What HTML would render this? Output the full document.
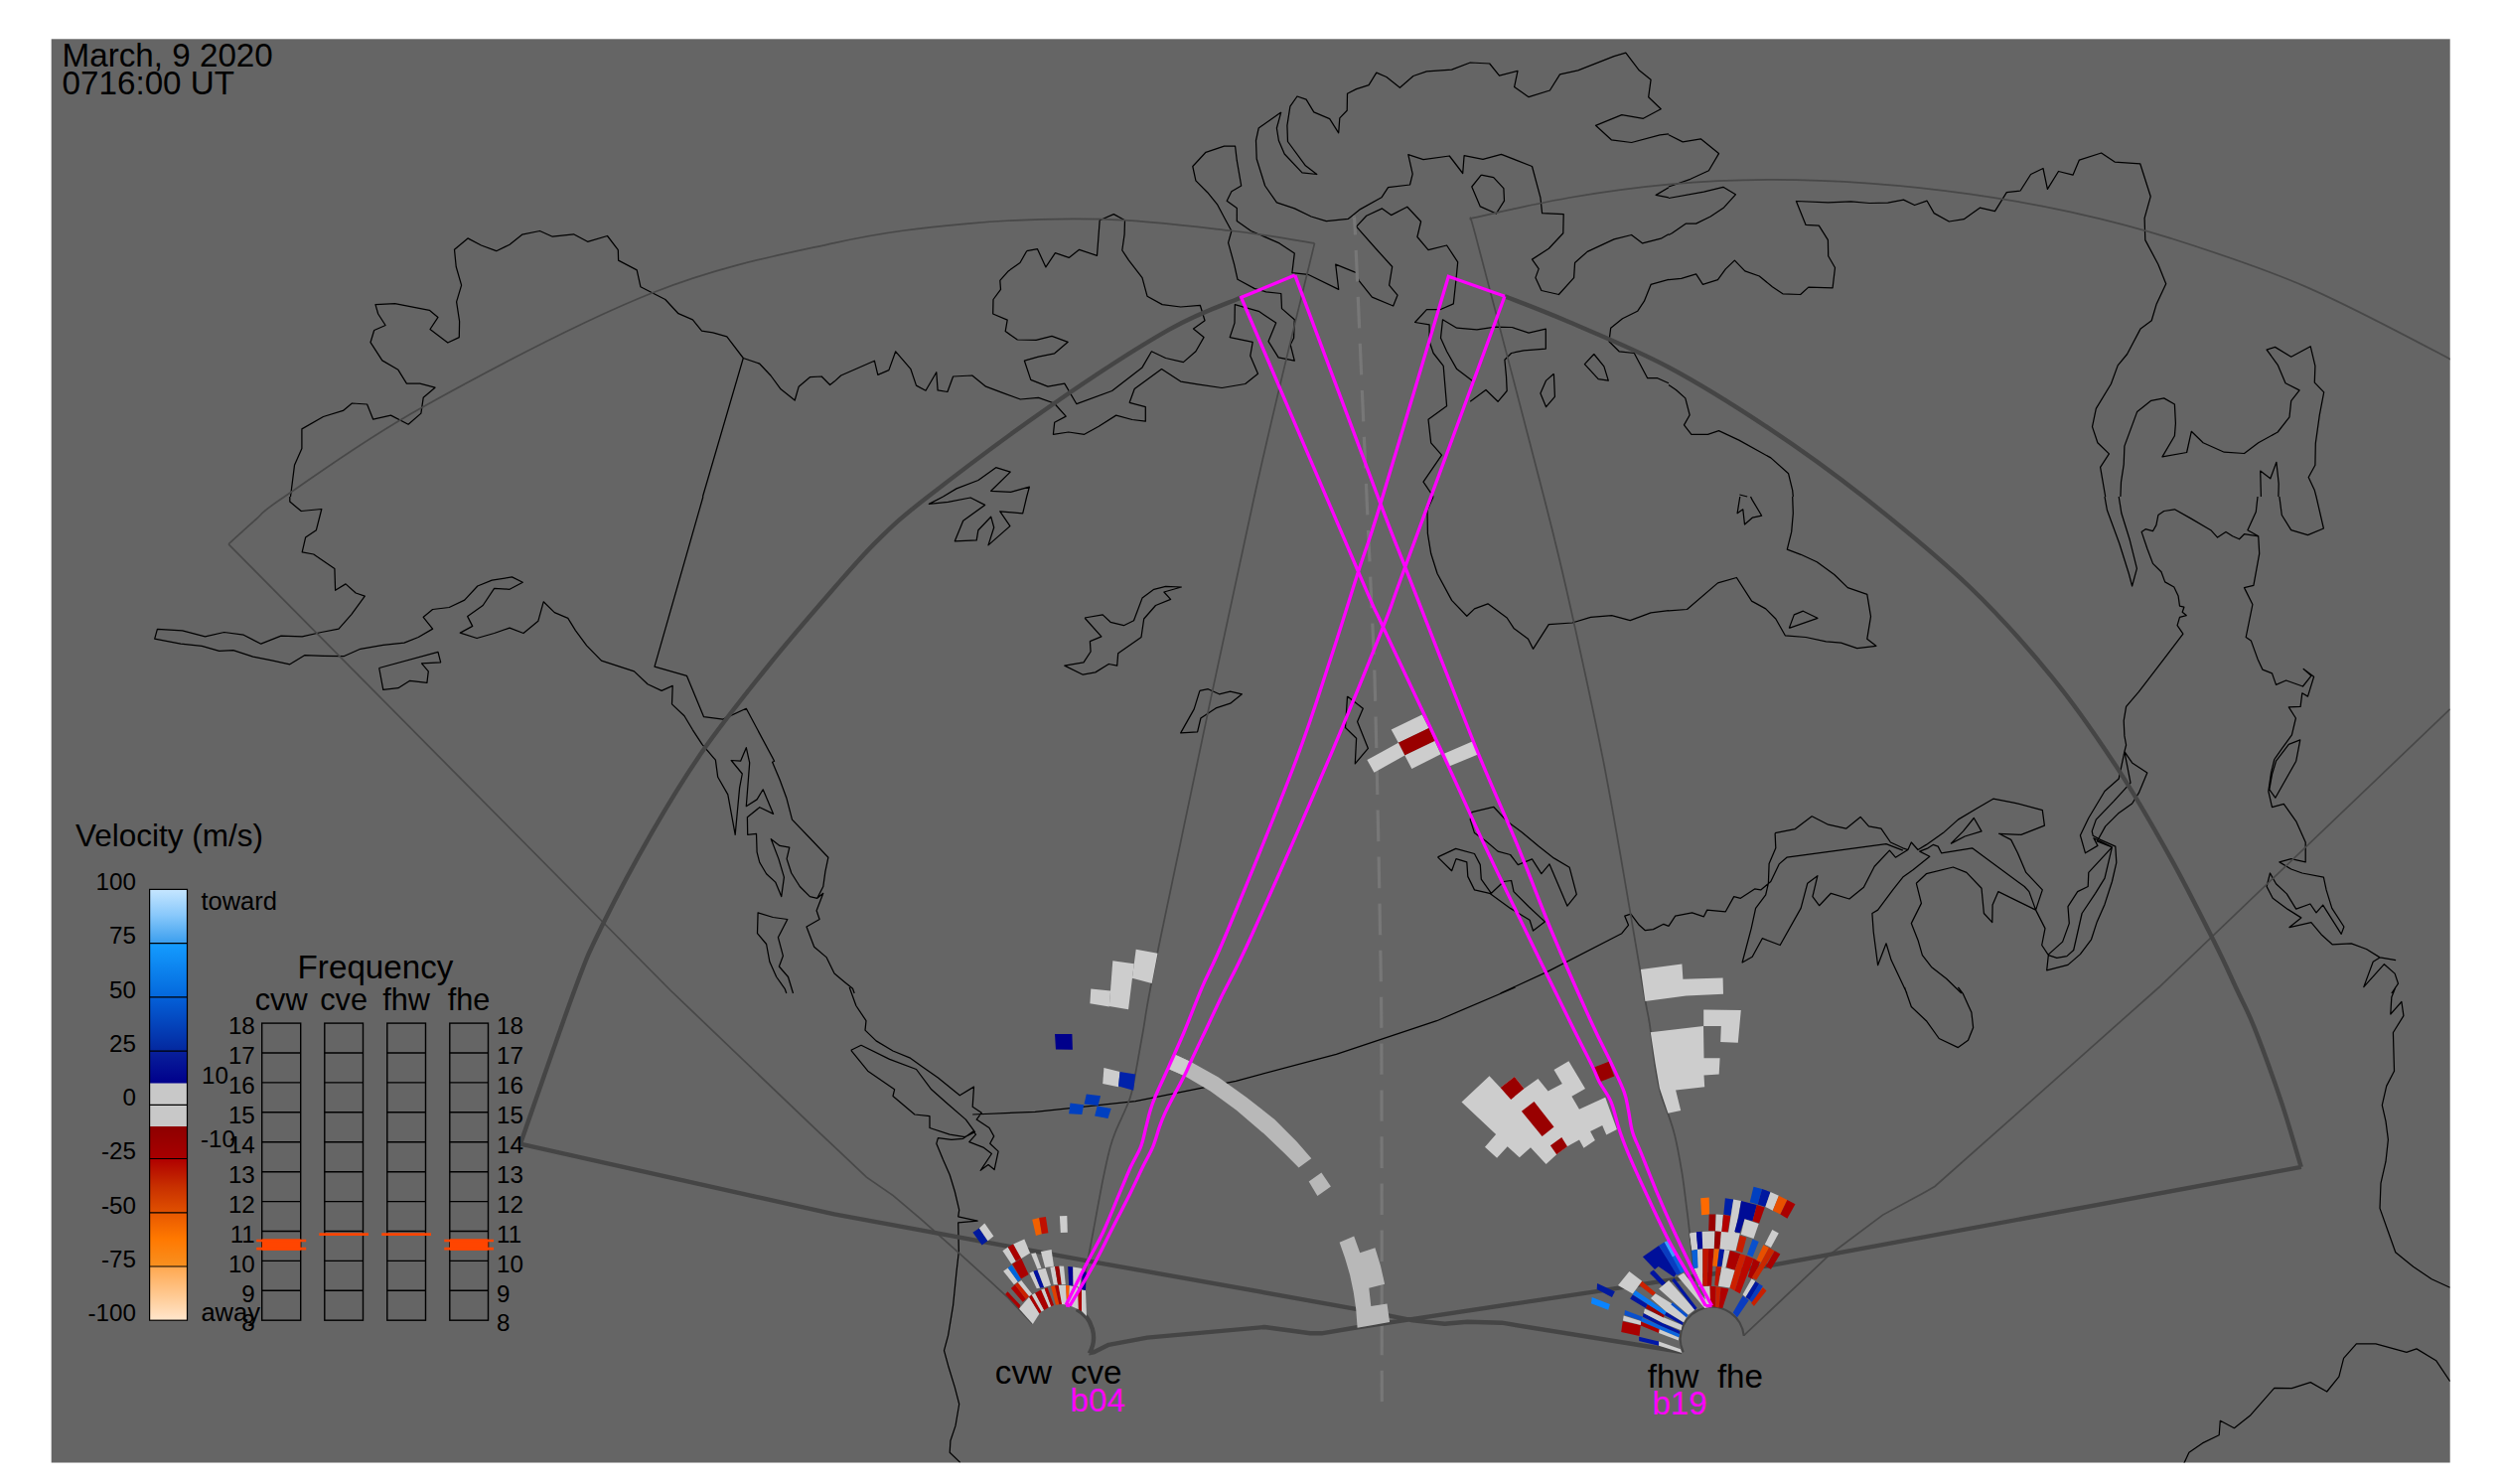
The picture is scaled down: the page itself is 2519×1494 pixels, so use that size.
<!DOCTYPE html>
<html><head><meta charset="utf-8"><title>Radar map</title>
<style>html,body{margin:0;padding:0;background:#fff}svg{display:block}text{font-family:"Liberation Sans",sans-serif}</style>
</head><body>
<svg width="2519" height="1494" viewBox="0 0 2519 1494">
<rect x="51.7" y="39.3" width="2415" height="1433.2" fill="#656565"/>
<clipPath id="cp"><rect x="51.7" y="39.3" width="2415" height="1433.2"/></clipPath>
<g clip-path="url(#cp)">
<path d="M292.5 500.0 L296.5 468.3 L303.9 451.5 L303.9 431.9 L325.5 419.5 L345.4 413.4 L354.4 406.0 L369.6 407.0 L375.7 422.2 L393.5 418.1 L411.1 427.2 L423.9 416.1 L426.2 400.3 L438.0 390.2 L422.8 386.1 L409.4 386.1 L400.9 372.3 L384.8 362.9 L373.0 344.7 L376.7 332.5 L388.1 327.5 L380.7 316.0 L378.0 306.6 L397.6 305.6 L432.3 312.3 L441.0 319.4 L433.0 331.5 L450.8 345.0 L462.3 339.6 L462.6 323.5 L459.6 303.9 L464.6 287.1 L459.2 268.5 L457.5 251.3 L471.0 239.9 L484.5 247.0 L499.7 252.7 L513.1 246.3 L525.6 236.2 L543.5 232.5 L556.3 238.2 L577.5 235.8 L591.6 243.3 L611.5 237.5 L622.3 251.7 L622.6 262.1 L641.2 271.9 L644.9 288.7 L669.8 301.5 L683.0 315.7 L697.4 321.8 L706.5 333.2 L717.7 334.9 L731.8 338.9 L748.3 360.5 L764.8 366.2 L775.9 378.0 L786.1 391.8 L800.2 403.0 L804.2 389.2 L815.4 379.7 L827.2 379.0 L835.6 387.5 L840.0 384.1 M748.3 360.5 L707.5 500.0 M1033.7 252.7 L1044.5 250.7 L1052.9 268.9 L1062.4 254.7 L1076.2 259.4 L1086.6 251.3 L1104.5 257.4 L1107.2 221.7 L1121.3 215.6 L1132.5 221.7 L1132.1 235.8 L1129.8 252.0 L1136.5 262.1 L1150.0 279.6 L1155.0 298.2 L1170.2 306.6 L1188.7 309.0 L1208.3 307.3 L1213.0 322.8 L1201.5 330.9 L1212.0 339.6 L1203.9 353.8 L1191.4 364.6 L1173.6 360.5 L1159.4 353.8 L1150.0 369.9 L1119.6 393.5 L1083.9 406.7 L1071.8 386.1 L1055.0 389.2 L1037.8 382.4 L1031.4 363.2 L1045.5 359.2 L1061.7 355.8 L1075.2 344.3 L1059.0 338.3 L1043.2 342.3 L1024.3 342.0 L1012.2 333.6 L1014.2 322.1 L999.7 316.0 L1000.0 301.5 L1007.5 291.4 L1006.8 282.3 L1015.2 272.9 L1027.0 264.5 L1033.7 252.7 M840.0 384.1 L846.7 378.0 L880.4 363.2 L883.8 377.4 L894.9 372.6 L901.7 353.8 L916.8 371.3 L922.5 388.1 L932.0 393.2 L942.8 374.7 L944.1 392.9 L953.9 394.5 L959.6 379.0 L978.8 378.0 L992.6 389.2 L1008.5 395.2 L1027.3 402.0 L1045.5 400.3 L1061.4 406.0 L1073.2 419.1 L1061.7 425.2 L1060.4 437.3 L1075.8 435.0 L1091.7 437.3 L1106.2 429.2 L1123.7 418.1 L1139.9 422.5 L1153.3 424.2 L1153.3 409.7 L1137.2 405.3 L1142.2 391.5 L1169.5 371.6 L1188.7 384.1 L1205.6 386.8 L1230.2 390.5 L1253.7 386.5 L1266.5 376.3 L1258.8 358.2 L1261.2 344.3 L1238.2 339.6 L1243.0 325.1 L1243.3 306.6 L1267.2 313.3 L1284.7 325.1 L1277.0 343.7 L1287.1 359.8 L1303.3 363.2 L1299.2 347.0 L1302.6 340.3 L1303.3 321.8 L1290.5 310.6 L1289.8 295.5 L1274.6 293.8 L1262.8 290.4 L1246.0 281.3 L1242.6 266.2 L1236.6 244.3 L1239.9 232.5 L1233.5 220.7 L1225.8 206.2 L1215.7 193.7 L1203.9 181.9 L1200.8 167.5 L1214.0 153.3 L1232.5 147.2 L1243.6 147.2 L1245.3 161.7 L1249.7 187.0 L1239.9 192.7 L1235.2 202.2 L1245.3 209.6 L1245.3 222.4 L1259.5 232.5 L1288.1 244.9 L1303.3 255.1 L1300.9 274.6 L1316.8 276.3 L1347.7 291.4 L1344.7 266.2 L1365.6 274.6 L1368.0 282.3 L1381.4 299.2 L1402.7 308.0 L1407.0 297.2 L1398.6 287.1 L1401.7 268.5 L1385.8 251.0 L1365.6 228.1 L1375.7 217.3 L1391.5 209.9 L1400.6 216.6 L1416.8 208.2 L1430.6 223.0 L1426.9 238.5 L1438.0 251.7 L1456.6 247.0 L1467.7 263.8 L1466.0 281.3 L1463.3 305.9 L1449.8 311.7 L1436.4 311.7 L1424.6 324.5 L1439.1 326.8 L1439.1 343.7 L1443.1 355.5 L1453.2 368.3 L1456.6 408.7 L1438.0 422.2 L1440.7 445.8 L1451.5 458.2 L1433.0 485.2 L1443.1 500.0 M1289.8 112.9 L1267.2 129.0 L1264.5 141.5 L1265.2 160.0 L1273.6 187.0 L1285.4 203.8 L1303.3 209.9 L1320.1 218.0 L1335.3 222.7 L1357.2 220.4 L1369.6 210.6 L1390.9 198.8 L1397.6 188.7 L1419.5 186.0 L1422.2 175.2 L1417.8 155.7 L1433.0 160.7 L1459.3 157.0 L1472.7 174.5 L1474.1 156.7 L1493.0 160.4 L1511.5 155.3 L1542.5 167.5 L1550.9 198.8 L1552.6 214.6 L1574.2 215.6 L1573.8 234.8 L1559.3 250.3 L1542.5 261.1 L1549.2 270.6 L1545.9 279.6 L1551.9 292.5 L1569.4 296.5 L1584.6 279.6 L1585.6 264.5 L1598.1 253.4 L1625.0 240.9 L1642.6 236.5 L1653.7 244.9 L1672.2 240.2 L1680.0 235.8 M1289.8 112.9 L1285.4 129.0 L1287.4 141.5 L1293.2 155.0 L1311.0 173.9 L1325.8 175.5 L1314.4 166.8 L1296.5 142.5 L1295.9 126.3 L1298.9 107.1 L1306.0 97.0 L1315.1 100.1 L1322.8 112.9 L1338.7 119.6 L1347.7 133.8 L1348.8 118.9 L1356.2 111.2 L1356.5 94.3 L1365.6 89.6 L1378.1 85.6 L1385.8 73.1 L1395.9 77.5 L1409.4 88.3 L1422.9 76.5 L1436.4 71.8 L1461.6 70.1 L1480.2 63.0 L1499.7 64.0 L1509.5 76.1 L1528.0 71.4 L1524.6 87.6 L1539.1 97.7 L1560.4 91.0 L1570.5 74.8 L1588.7 70.8 L1625.0 56.6 L1636.8 53.2 L1650.3 70.8 L1662.1 80.2 L1659.7 97.7 L1672.2 109.8 L1654.4 119.3 L1632.8 115.6 L1606.5 126.3 L1622.3 140.8 L1642.6 143.5 L1671.2 135.8 L1680.0 134.8 M1491.3 176.2 L1503.7 178.6 L1513.9 189.7 L1514.5 202.2 L1506.4 215.0 L1490.3 207.9 L1481.8 188.0 L1491.3 176.2 M1680.0 281.3 L1662.1 286.4 L1655.4 303.2 L1648.6 313.3 L1633.5 320.8 L1621.7 330.2 L1620.0 343.7 L1630.1 353.8 L1645.3 355.5 L1658.7 380.7 L1668.8 380.7 L1680.0 385.8 M1680.0 188.7 L1667.2 196.4 L1680.0 198.8 M1480.2 404.3 L1496.0 392.5 L1508.1 404.3 L1517.2 393.5 L1516.5 379.0 L1514.9 362.2 L1521.6 355.5 L1534.1 352.8 L1556.3 351.1 L1556.3 331.2 L1539.1 335.2 L1522.3 329.5 L1505.4 329.2 L1486.9 331.9 L1466.7 330.2 L1452.5 321.8 L1450.5 340.3 L1456.6 353.8 L1466.7 371.6 L1484.5 385.1 M1564.4 376.3 L1565.4 399.3 L1556.6 409.7 L1550.9 395.9 L1556.6 383.1 L1564.4 376.3 M1604.8 356.5 L1614.9 368.9 L1619.3 383.1 L1609.2 381.7 L1595.4 366.6 L1604.8 356.5 M949.5 500.0 L963.0 491.9 L984.9 483.5 L1002.7 470.7 L1017.2 475.1 L997.7 494.3 L1017.6 495.3 L1036.4 490.2 L1033.7 500.0 M1680.0 135.8 L1694.2 142.9 L1712.3 139.8 L1730.5 154.6 L1720.4 171.8 L1701.9 180.3 L1680.0 188.0 M1680.0 199.5 L1715.4 193.1 L1734.9 188.3 L1747.4 195.8 L1735.6 208.9 L1722.1 218.0 L1707.6 225.1 L1697.5 225.1 L1683.4 234.8 L1680.0 236.5 M1680.0 281.7 L1692.8 280.3 L1707.6 275.9 L1714.4 286.4 L1729.5 281.7 L1737.3 270.9 L1746.4 262.1 L1756.8 272.9 L1771.3 278.0 L1784.4 288.7 L1794.9 295.8 L1812.7 296.5 L1820.8 289.1 L1845.1 289.8 L1847.5 269.5 L1840.7 257.7 L1840.4 241.6 L1831.3 227.1 L1818.1 226.4 L1808.4 202.5 L1840.7 203.8 L1863.6 202.8 L1882.2 204.5 L1900.7 204.2 L1916.5 201.1 L1927.6 206.5 L1940.1 202.2 L1947.2 214.6 L1962.3 223.0 L1977.2 220.7 L1993.3 209.2 L2008.5 212.6 L2020.3 193.7 L2034.1 192.0 L2044.6 175.5 L2057.0 169.5 L2061.4 190.4 L2072.5 172.5 L2087.0 176.2 L2093.4 161.1 L2115.6 154.0 L2129.1 163.1 L2154.7 164.8 L2165.2 197.8 L2159.1 219.7 L2159.8 241.6 L2172.9 266.2 L2180.7 285.7 L2171.2 305.9 L2166.2 322.8 L2155.1 330.9 L2141.6 356.5 L2132.2 367.9 L2125.4 386.5 L2110.3 411.4 L2106.5 429.6 L2111.9 445.8 L2123.4 456.9 L2114.6 470.4 L2119.7 500.0 M2134.9 500.0 L2135.5 485.2 L2138.2 467.7 L2138.9 449.1 L2151.7 414.4 L2165.8 403.3 L2178.7 400.9 L2189.4 407.0 L2190.4 426.2 L2189.4 438.7 L2177.0 459.9 L2201.6 455.5 L2206.3 434.3 L2218.1 445.8 L2239.3 455.2 L2259.5 456.5 L2273.7 445.8 L2293.2 435.0 L2305.0 419.8 L2306.7 403.6 L2315.1 392.9 L2301.0 385.8 L2293.2 367.3 L2282.1 352.1 L2290.5 349.4 L2306.7 359.2 L2326.2 348.7 L2330.9 368.3 L2330.3 385.1 L2339.7 394.9 L2335.3 417.8 L2331.3 446.4 L2330.9 468.3 L2324.2 480.5 L2330.3 493.6 L2332.0 500.0 M2276.4 500.0 L2275.7 474.1 L2285.8 481.8 L2291.9 465.3 L2294.2 486.9 L2293.9 500.0 M1680.0 387.5 L1687.4 392.5 L1696.8 400.9 L1701.2 417.8 L1695.5 427.9 L1702.9 437.3 L1719.4 437.3 L1730.5 433.6 L1750.8 443.1 L1782.8 460.9 L1800.6 476.8 L1804.7 493.6 L1805.3 500.0 M1751.4 498.0 L1759.2 500.0 M291.8 500.0 L291.8 505.1 L303.2 514.5 L323.8 512.5 L318.4 533.7 L307.6 541.1 L304.2 555.9 L315.7 558.0 L336.9 572.4 L337.6 594.3 L348.0 587.9 L358.2 597.0 L367.3 600.1 L353.8 618.6 L341.0 633.1 L323.5 636.5 L304.2 640.8 L283.0 640.2 L262.8 648.2 L245.3 639.2 L225.7 636.5 L206.5 640.8 L183.6 634.8 L158.4 633.4 L155.7 643.2 L181.9 648.2 L203.2 650.3 L220.7 655.3 L234.8 654.6 L254.7 661.1 L273.6 664.8 L291.8 668.8 L306.6 659.7 L326.1 660.4 L346.0 660.7 L362.9 653.3 L385.8 649.3 L407.0 647.2 L421.2 641.5 L435.6 633.1 L426.2 621.3 L435.6 613.5 L452.2 611.5 L467.7 604.1 L480.8 590.0 L495.3 584.2 L515.5 580.9 L526.3 586.3 L513.1 593.3 L497.6 592.3 L486.2 609.5 L470.7 620.6 L475.7 630.4 L463.3 637.1 L480.1 642.5 L497.6 637.5 L513.1 632.1 L527.0 637.5 L541.8 625.3 L547.2 605.8 L558.3 616.6 L571.8 622.3 L579.5 634.8 L590.6 649.9 L605.5 665.1 L638.5 675.9 L652.0 688.7 L666.1 695.4 L677.2 690.4 L676.5 708.9 L689.0 720.7 L697.4 734.8 L706.9 749.3 L720.4 765.2 L722.7 782.3 L732.8 799.9 L740.2 840.3 L744.6 793.1 L747.3 779.0 L736.2 765.5 L745.6 766.2 L751.3 752.7 L754.7 767.9 L751.3 811.7 L762.1 804.9 L768.2 794.8 L778.6 819.4 L764.8 812.7 L752.4 822.8 L752.7 840.3 L761.5 839.3 L762.1 857.8 L764.8 868.3 L771.6 879.7 L780.7 888.1 L786.7 902.6 L789.4 883.1 L784.0 864.9 L776.3 844.7 L785.0 851.4 L794.8 853.1 L792.1 864.6 L796.8 879.0 L805.3 892.5 L815.4 902.6 L822.8 904.3 L828.8 892.5 L830.9 877.4 L833.9 863.2 L815.4 843.7 L797.5 825.1 L791.8 803.2 L785.0 784.7 L777.6 767.2 L779.6 766.2 L751.3 713.3 L727.8 724.1 L708.6 721.7 L691.4 680.3 L659.0 671.2 L707.9 500.0 M822.8 904.3 L828.8 899.3 L822.1 916.8 L825.1 925.5 L812.0 933.0 L819.7 953.2 L832.2 963.9 L840.0 980.1 M798.5 1000.0 L793.5 983.5 L784.4 973.0 L788.4 962.3 L783.4 943.7 L792.8 925.5 L778.3 923.5 L763.1 918.8 L762.5 939.7 L771.6 950.5 L774.9 968.3 L781.7 983.5 L790.1 995.3 L791.8 1000.0 M381.7 672.5 L441.0 656.3 L443.7 666.8 L424.5 667.8 L431.3 675.9 L429.9 687.3 L412.7 685.3 L400.9 692.7 L385.8 694.4 L381.7 672.5 M949.5 500.0 L935.4 507.4 L954.6 505.4 L977.1 501.0 L991.6 508.4 L969.7 524.3 L961.3 544.8 L983.2 543.8 L984.9 533.7 L997.7 520.2 L1000.7 531.0 L995.0 548.9 L1016.9 529.6 L1006.8 514.8 L1029.7 516.8 L1033.7 500.0 M1092.0 622.0 L1110.2 618.9 L1118.0 626.3 L1131.4 629.7 L1141.5 624.7 L1150.0 602.1 L1161.8 593.3 L1173.6 590.3 L1189.4 591.0 L1171.9 596.0 L1178.6 603.4 L1163.5 609.5 L1151.7 623.0 L1149.0 641.5 L1125.7 657.7 L1124.7 670.1 L1116.3 668.5 L1102.8 676.9 L1090.3 679.2 L1071.8 670.1 L1091.0 666.8 L1098.1 656.0 L1097.4 645.6 L1108.9 640.8 L1092.0 622.0 M1207.9 695.4 L1216.3 693.7 L1227.5 698.8 L1238.6 696.1 L1250.4 698.8 L1238.6 708.2 L1224.1 712.9 L1208.9 723.0 L1205.6 736.9 L1188.7 737.9 L1202.2 713.9 L1207.9 695.4 M1356.5 701.1 L1372.3 713.3 L1366.6 726.4 L1377.4 753.4 L1364.3 768.9 L1365.6 743.3 L1354.5 732.5 L1356.5 701.1 M1443.1 500.0 L1437.0 513.5 L1437.4 537.1 L1440.7 557.3 L1447.1 577.5 L1461.6 604.4 L1476.8 620.3 L1484.5 612.9 L1498.0 607.8 L1517.2 622.0 L1524.0 632.4 L1538.5 643.2 L1543.5 653.3 L1559.3 628.7 L1582.9 627.0 L1601.5 621.3 L1622.7 619.6 L1641.2 624.7 L1662.1 616.9 L1680.0 614.6 M1481.8 817.7 L1503.7 812.3 L1517.2 826.8 L1532.4 837.9 L1549.2 852.1 L1564.4 863.9 L1580.2 873.3 L1587.3 900.3 L1577.9 912.1 L1560.0 869.9 L1551.9 879.7 L1542.5 864.9 L1528.3 870.6 L1520.6 860.5 L1508.1 857.1 L1496.3 847.0 L1484.5 838.6 L1480.2 825.1 L1481.8 817.7 M1447.5 862.9 L1465.7 854.4 L1484.5 859.5 L1490.3 870.6 L1491.3 885.1 L1501.4 899.3 L1513.9 887.5 L1521.6 886.5 L1524.0 897.6 L1539.1 912.7 L1555.3 927.9 L1543.5 937.0 L1540.1 926.2 L1520.6 914.4 L1499.7 899.3 L1484.5 895.9 L1477.8 882.4 L1476.8 867.9 L1466.0 864.6 L1461.6 876.7 L1447.5 862.9 M1510.5 1000.0 L1557.7 978.4 L1632.8 939.7 L1639.5 931.3 L1635.8 922.2 L1641.9 920.1 L1650.3 931.3 L1656.4 936.7 L1664.5 935.6 L1674.9 930.3 L1680.0 932.3 M840.0 980.1 L850.1 988.5 L858.5 995.3 L860.2 1000.0 M1680.0 614.9 L1698.5 613.5 L1729.5 586.9 L1748.4 581.5 L1763.6 605.1 L1777.7 612.9 L1787.8 623.0 L1797.3 639.8 L1818.1 641.5 L1838.4 645.9 L1853.5 647.2 L1869.7 652.6 L1888.9 650.3 L1879.8 643.2 L1883.5 620.6 L1879.8 598.4 L1860.3 591.6 L1846.8 578.5 L1829.3 565.7 L1813.1 558.3 L1799.3 553.2 L1803.7 535.4 L1805.3 516.8 L1804.7 500.0 M1801.3 632.4 L1806.3 618.9 L1815.4 615.2 L1829.9 622.3 L1801.3 632.4 M1751.8 500.0 L1749.1 516.8 L1754.8 512.8 L1756.5 528.0 L1764.2 521.2 L1773.7 519.2 L1764.2 503.4 L1762.5 500.0 M2119.0 500.0 L2121.4 513.5 L2133.8 547.2 L2143.3 577.5 L2146.6 590.0 L2151.4 572.4 L2144.3 543.8 L2135.9 516.8 L2133.2 500.0 M2273.0 500.0 L2271.3 515.2 L2262.9 533.7 L2273.7 539.8 L2274.7 557.3 L2268.9 589.3 L2259.5 591.6 L2267.9 608.5 L2261.2 641.5 L2266.3 644.9 L2273.0 663.4 L2278.0 674.2 L2287.5 677.9 L2291.5 689.4 L2301.6 685.0 L2318.5 691.0 L2326.9 680.3 L2319.2 673.5 L2329.6 681.3 L2323.5 701.1 L2317.8 697.8 L2316.1 711.3 L2304.3 711.9 L2311.4 723.0 L2307.4 739.9 L2297.6 753.4 L2289.8 764.5 L2286.5 778.0 L2283.8 796.5 L2287.5 812.7 L2299.3 809.3 L2311.7 826.8 L2321.2 848.0 L2321.2 867.9 L2306.7 864.6 L2294.9 867.9 L2306.7 875.0 L2317.8 879.0 L2339.4 883.1 L2342.1 895.9 L2347.8 914.4 L2359.9 933.0 L2357.2 940.4 L2338.7 911.1 L2332.0 918.8 L2325.9 910.0 L2311.7 915.1 L2302.3 899.9 L2291.5 889.8 L2285.5 879.0 L2282.1 892.5 L2288.2 904.3 L2303.3 915.4 L2316.8 923.9 L2305.0 933.6 L2326.9 928.6 L2337.0 940.7 L2348.1 950.8 L2367.3 949.8 L2382.5 955.5 L2396.0 963.9 L2412.1 966.6 M2396.0 963.9 L2389.2 968.3 L2379.8 993.6 L2400.4 970.7 L2411.1 980.1 L2414.5 990.2 L2407.8 1000.0 M2273.7 539.8 L2259.5 537.7 L2254.5 542.8 L2247.7 539.8 L2241.0 535.4 L2232.6 541.1 L2225.8 533.7 L2205.6 521.9 L2189.4 512.8 L2178.7 514.5 L2172.9 518.5 L2170.9 528.6 L2167.5 534.7 L2160.1 532.7 L2156.1 535.4 L2161.8 552.2 L2167.5 567.4 L2176.0 575.8 L2179.7 585.9 L2188.8 591.0 L2193.1 600.1 L2194.5 610.2 L2198.9 611.2 L2197.2 616.2 L2201.2 619.6 L2194.5 621.3 L2192.1 629.7 L2197.9 638.1 L2178.7 663.4 L2153.4 696.4 L2140.6 711.3 L2138.2 725.7 L2138.9 740.9 L2140.6 750.0 L2138.9 756.7 L2146.6 767.9 L2161.8 778.0 L2153.4 798.2 L2146.6 809.0 L2132.5 819.1 L2119.7 831.9 L2111.3 847.0 L2126.4 852.8 L2102.8 878.4 L2102.2 892.5 L2091.7 897.6 L2082.0 912.7 L2083.3 929.6 L2076.6 948.1 L2062.4 960.9 L2060.7 976.8 L2082.0 971.4 L2094.4 960.6 L2105.5 945.8 L2111.3 927.9 L2119.0 910.4 L2126.4 887.5 L2130.8 868.3 L2129.8 852.1 L2114.6 845.4 L2107.2 841.3 L2106.2 836.9 L2110.3 825.1 L2128.1 806.6 L2145.0 788.1 L2138.9 756.7 L2133.2 784.0 L2119.0 796.5 L2102.8 823.5 L2094.4 841.0 L2099.5 858.8 L2111.9 851.4 L2107.9 843.7 L2126.4 852.8 M1787.1 838.6 L1807.4 834.6 L1824.2 821.8 L1840.7 830.2 L1858.6 834.2 L1873.1 822.4 L1881.5 831.9 L1893.9 834.2 L1903.4 848.0 L1915.8 853.8 L1920.9 855.5 L1924.3 848.0 L1931.0 855.5 L1939.4 850.4 L1956.3 838.6 L1971.4 825.1 L1990.0 814.0 L2006.8 804.2 L2028.7 808.3 L2056.3 815.7 L2058.4 831.2 L2034.8 840.3 L2012.5 839.3 L2024.7 845.4 L2031.4 858.8 L2039.8 878.4 L2056.3 895.9 L2049.6 916.1 L2042.9 897.6 L2038.2 892.5 L1985.6 853.8 L1954.6 858.8 L1951.2 852.1 L1946.2 850.4 L1941.1 853.8 L1932.7 857.1 L1942.8 862.2 L1926.0 875.7 L1915.8 883.1 L1905.7 895.9 L1890.6 916.1 L1884.9 919.5 L1886.2 938.0 L1890.6 971.7 L1899.0 949.8 L1904.1 966.6 L1919.9 1000.0 M1787.1 838.6 L1787.8 853.8 L1781.1 869.6 L1780.4 889.2 L1777.7 900.9 L1767.6 914.4 L1763.2 934.6 L1754.1 969.0 L1764.2 963.3 L1774.3 944.7 L1792.2 951.5 L1813.1 914.4 L1819.8 889.2 L1829.9 881.7 L1824.9 902.6 L1831.6 911.7 L1843.4 899.3 L1861.9 905.0 L1876.4 893.2 L1887.2 872.3 L1902.4 856.1 L1908.4 863.2 L1920.9 855.5 M1680.0 932.3 L1686.7 922.2 L1703.6 918.8 L1715.4 922.8 L1718.7 916.1 L1737.3 917.8 L1745.7 902.6 L1752.4 904.3 L1766.6 894.9 L1772.7 895.9 L1782.8 887.5 L1791.2 869.9 L1798.9 863.2 L1899.0 849.7 L1915.8 856.1 M1929.3 889.2 L1939.4 879.7 L1966.4 873.0 L1979.9 878.4 L1995.0 894.2 L1997.4 919.5 L2005.8 928.6 L2006.1 911.1 L2011.9 897.6 L2049.6 916.1 L2059.0 934.6 L2055.7 951.5 L2062.4 961.6 L2070.8 964.3 L2080.9 962.6 L2087.7 956.5 L2096.1 919.5 L2109.6 899.3 L2119.0 884.1 L2126.4 852.8 M1929.3 889.2 L1934.4 909.4 L1924.3 929.6 L1931.0 946.4 L1935.4 961.6 L1944.5 973.4 L1959.6 985.2 L1974.8 1000.0 M1964.0 849.4 L1976.5 836.9 L1987.3 823.5 L1995.0 836.9 L1978.2 842.0 L1964.0 849.4 M2284.8 794.8 L2287.5 779.6 L2291.5 766.2 L2304.3 749.3 L2315.8 744.9 L2311.7 766.2 L2290.8 803.2 L2284.8 794.8 M2294.9 500.0 L2297.3 518.5 L2306.7 533.7 L2323.5 538.7 L2339.4 532.0 L2332.0 500.0 M855.2 994.0 L861.9 1012.5 L872.0 1027.7 L871.0 1037.1 L882.1 1047.9 L899.0 1058.0 L915.8 1064.8 L927.6 1073.2 L944.4 1085.0 L966.3 1102.8 L980.5 1094.1 L979.2 1114.3 L988.2 1120.3 L983.2 1127.1 L996.0 1135.5 L1000.7 1143.9 L996.7 1151.3 L1005.1 1159.1 L1001.1 1177.6 L995.0 1172.6 L987.2 1178.3 L998.4 1161.5 L989.9 1155.1 L975.8 1149.7 L982.5 1142.2 L979.8 1138.9 L969.7 1146.3 L957.9 1147.3 L944.4 1145.6 L942.8 1151.3 L949.5 1167.5 L956.2 1182.7 L961.3 1199.5 L965.7 1218.1 L964.7 1224.8 L984.2 1229.2 L964.7 1230.9 L965.3 1260.2 L963.0 1280.4 L959.6 1314.1 L954.6 1344.4 L950.5 1359.6 L954.6 1374.7 L961.3 1396.6 L965.7 1413.5 L962.0 1435.4 L956.9 1450.5 L956.2 1462.3 L966.7 1472.4 M856.8 1057.3 L867.0 1052.3 L895.6 1066.4 L922.5 1076.5 L937.7 1096.8 L952.9 1110.2 L972.4 1127.1 L981.5 1139.6 L971.4 1144.6 L956.2 1142.2 L936.0 1135.5 L936.0 1123.7 L920.9 1122.0 L899.0 1103.5 L900.6 1096.8 L873.7 1078.2 L856.8 1057.3 M979.2 1122.0 L1042.2 1119.3 L1143.2 1108.6 L1244.3 1088.3 L1345.4 1061.4 L1446.5 1027.7 L1525.6 994.0 M1917.5 994.0 L1924.3 1013.5 L1939.4 1027.7 L1952.2 1045.5 L1971.4 1054.6 L1981.5 1047.2 L1986.6 1034.4 L1984.9 1019.3 L1976.5 1000.7 L1971.4 994.0 M2411.8 994.0 L2407.8 1004.1 L2406.8 1021.0 L2417.9 1008.5 L2419.9 1022.6 L2409.4 1039.5 L2410.5 1078.2 L2402.7 1093.4 L2398.3 1112.6 L2402.0 1128.8 L2404.4 1147.3 L2402.0 1169.2 L2397.0 1191.1 L2396.0 1216.4 L2404.4 1240.0 L2411.8 1260.8 L2429.7 1275.3 L2448.2 1287.8 L2466.7 1296.2 M2198.9 1473.1 L2203.9 1462.3 L2217.4 1452.9 L2234.2 1444.8 L2235.3 1430.3 L2249.4 1437.7 L2265.2 1425.3 L2289.8 1397.3 L2307.4 1397.6 L2326.2 1391.6 L2342.7 1401.0 L2354.9 1385.8 L2359.6 1367.3 L2372.4 1352.8 L2391.9 1352.8 L2422.9 1361.3 L2433.0 1357.9 L2452.6 1369.7 L2466.7 1390.6" fill="none" stroke="#000" stroke-width="1.25" stroke-linejoin="round"/>
<path d="M1039.3 1332.3 L1013.9 1305.5 L996.9 1289.9 L965.7 1261.6 L927.5 1227.6 L899.2 1203.6 L872.4 1185.2 L845.5 1159.7 L820.0 1135.7 L675.0 997.0 L230.1 547.8 M230.1 547.8 C234.7 543.7 248.1 531.0 257.5 523.0 C266.9 515.0 258.3 518.9 286.4 500.0 C314.5 481.1 364.4 443.6 426.2 409.4 C488.0 375.2 588.0 322.3 657.0 294.8 C726.0 267.3 787.0 256.2 840.0 244.6 C893.0 233.0 929.9 229.1 974.8 225.1 C1019.7 221.1 1065.2 219.5 1109.5 220.7 C1153.8 221.9 1205.2 228.5 1240.9 232.5 C1276.6 236.5 1309.7 242.8 1323.5 244.9 M1323.5 244.9 C1313.4 287.4 1288.5 384.1 1262.8 500.0 C1237.1 615.9 1188.0 850.0 1169.3 940.0 C1150.6 1030.0 1154.6 1017.7 1150.5 1040.0 C1146.4 1062.3 1146.4 1063.6 1144.5 1073.7 C1142.6 1083.8 1140.9 1093.7 1139.1 1100.7 C1137.3 1107.7 1136.4 1109.0 1133.7 1115.5 C1131.0 1122.0 1125.6 1133.0 1122.9 1139.7 C1120.2 1146.4 1119.5 1148.2 1117.5 1155.9 C1115.5 1163.6 1113.3 1173.5 1110.8 1185.6 C1108.3 1197.7 1105.3 1214.6 1102.7 1228.7 C1100.1 1242.8 1097.0 1259.2 1094.9 1270.4 C1092.8 1281.6 1090.8 1291.7 1090.0 1296.0 M1480.2 220.0 C1481.7 225.0 1476.7 203.3 1489.0 250.0 C1501.3 296.7 1539.4 441.7 1554.3 500.0 C1569.2 558.3 1568.5 555.1 1578.6 600.0 C1588.7 644.9 1603.8 712.8 1614.9 769.5 C1626.0 826.2 1638.1 900.4 1645.0 940.0 C1651.9 979.6 1653.8 992.0 1656.4 1007.0 C1659.0 1022.0 1659.0 1019.1 1660.7 1030.0 C1662.4 1040.9 1664.5 1060.7 1666.4 1072.5 C1668.3 1084.3 1669.9 1092.8 1672.0 1100.8 C1674.1 1108.8 1676.7 1113.5 1679.1 1120.6 C1681.5 1127.7 1683.8 1133.3 1686.2 1143.2 C1688.6 1153.1 1691.4 1168.7 1693.3 1180.0 C1695.2 1191.3 1696.2 1201.2 1697.5 1211.2 C1698.8 1221.2 1699.6 1227.0 1701.0 1240.1 C1702.4 1253.2 1705.2 1281.7 1706.0 1290.0 M1480.2 220.0 C1496.8 216.5 1546.7 204.7 1580.0 199.0 C1613.3 193.3 1646.5 188.6 1680.0 185.6 C1713.5 182.6 1747.4 181.1 1781.1 180.9 C1814.8 180.7 1848.5 182.2 1882.2 184.6 C1915.9 187.0 1949.5 190.6 1983.2 195.4 C2016.9 200.2 2050.6 205.9 2084.3 213.3 C2118.0 220.7 2146.1 227.4 2185.4 239.9 C2224.7 252.4 2273.3 267.8 2320.2 288.1 C2367.1 308.4 2426.7 340.4 2466.7 361.5 C2506.7 382.6 2544.4 406.1 2560.0 415.0 M2466.7 713.9 L2173.6 994.0 L1947.9 1194.5 L1936.1 1201.2 L1895.6 1223.1 L1841.7 1263.5 L1755.8 1344.4" fill="none" stroke="#484848" stroke-width="1.7"/>
<path d="M1363.2 219.0 C1363.5 224.2 1363.0 203.2 1365.1 250.0 C1367.2 296.8 1373.4 441.7 1376.0 500.0 C1378.6 558.3 1379.1 566.7 1380.5 600.0 C1381.9 633.3 1382.9 640.0 1384.5 700.0 C1386.1 760.0 1388.8 893.3 1389.9 960.0 C1391.0 1026.7 1390.8 1024.3 1391.0 1100.0 C1391.2 1175.7 1391.2 1361.7 1391.3 1414.0" fill="none" stroke="#777777" stroke-width="3.2" stroke-dasharray="31.5 15.5" stroke-dashoffset="11.6"/>
<path d="M523.9 1151.7 C533.2 1125.4 565.7 1030.7 579.5 994.0 C593.3 957.3 593.6 957.5 606.5 931.3 C619.4 905.1 640.2 866.1 657.0 836.9 C673.8 807.7 687.9 784.2 707.5 756.1 C727.1 728.0 752.8 695.9 774.9 668.5 C797.0 641.1 821.9 612.6 840.0 591.8 C858.1 571.0 868.1 559.1 883.8 543.8 C899.5 528.5 905.1 522.7 934.3 500.0 C963.5 477.3 1018.6 435.7 1059.0 407.7 C1099.4 379.7 1145.1 349.9 1176.9 331.9 C1208.7 313.9 1237.5 304.9 1249.6 299.5 M523.9 1151.7 L840.0 1222.4 L1096.1 1269.6 L1365.2 1317.8 L1422.7 1329.4 L1454.4 1332.8 L1477.4 1330.8 L1511.9 1331.7 L1693.2 1361.0 M1514.9 298.3 C1525.8 302.6 1552.5 312.4 1580.0 324.3 C1607.5 336.2 1646.5 351.9 1680.0 369.7 C1713.5 387.5 1748.4 409.6 1781.1 431.3 C1813.8 453.0 1842.3 473.4 1876.0 500.0 C1909.7 526.6 1951.3 560.4 1983.2 591.0 C2015.1 621.6 2042.8 653.3 2067.5 683.6 C2092.2 713.9 2111.8 742.9 2131.5 772.9 C2151.2 802.9 2169.1 834.7 2185.4 863.9 C2201.7 893.1 2218.0 925.9 2229.2 948.1 C2240.4 970.3 2245.7 982.6 2252.4 997.0 C2259.1 1011.4 2262.2 1015.8 2269.6 1034.4 C2277.0 1053.0 2288.7 1085.2 2296.6 1108.6 C2304.5 1132.0 2313.4 1163.9 2316.8 1174.9 M2316.8 1174.9 L1784.4 1273.7 L1699.0 1286.2 L1673.1 1289.9 L1604.0 1300.6 L1422.7 1327.9 L1365.2 1336.5 L1330.6 1342.3 L1319.1 1342.3 L1273.1 1336.0 L1155.1 1346.6 L1116.3 1353.8 L1101.9 1361.0 L1096.1 1362.4 M1096.7 1362.5 A32.2 32.2 0 0 0 1083.9 1318.0" fill="none" stroke="#454545" stroke-width="4.4" stroke-linejoin="round"/>
<path d="M1694.8 1361.3 A32.0 32.0 0 1 1 1755.7 1345.0" fill="none" stroke="#454545" stroke-width="2"/>
<polygon points="1400.7,734.4 1431.7,719.6 1438.6,732.9 1407.9,747.7" fill="#cdcdcd"/>
<polygon points="1407.9,747.7 1438.6,732.9 1444.5,745.9 1414.3,760.5" fill="#990000"/>
<polygon points="1376.4,765.1 1407.9,747.7 1414.3,760.5 1383.5,777.7" fill="#cdcdcd"/>
<polygon points="1414.3,760.5 1444.5,745.9 1450.6,759.3 1421.4,773.9" fill="#cdcdcd"/>
<polygon points="1452.7,759.3 1483.4,745.9 1488.5,759.3 1457.8,772.1" fill="#cdcdcd"/>
<polygon points="1143.7,955.7 1165.5,959.8 1159.7,989.9 1139.9,984.8 1141.8,970.3" fill="#cdcdcd"/>
<polygon points="1120.3,967.3 1141.8,970.3 1136.0,1016.2 1116.8,1013.0" fill="#cdcdcd"/>
<polygon points="1098.3,995.4 1118.1,997.6 1116.8,1013.6 1097.4,1010.2" fill="#cdcdcd"/>
<polygon points="1062.0,1040.9 1079.4,1040.9 1079.9,1056.8 1063.0,1056.5" fill="#00008b"/>
<polygon points="1111.4,1075.1 1127.5,1078.9 1126.0,1094.3 1110.2,1091.1" fill="#cdcdcd"/>
<polygon points="1127.5,1078.9 1143.1,1081.5 1141.2,1097.7 1126.0,1093.6" fill="#0022aa"/>
<polygon points="1093.8,1101.6 1108.1,1103.3 1105.6,1112.9 1091.5,1111.6" fill="#0038b8"/>
<polygon points="1077.5,1110.6 1091.2,1112.2 1089.3,1122.1 1076.2,1121.2" fill="#0040c0"/>
<polygon points="1104.7,1113.5 1118.7,1116.1 1115.5,1125.9 1102.1,1123.4" fill="#0040c0"/>
<polygon points="1183.2,1061.8 1199.4,1069.3 1226.7,1084.5 1255.0,1104.7 1283.3,1126.9 1305.5,1149.2 1320.3,1166.3 1307.6,1175.4 1293.4,1161.3 1272.2,1141.1 1244.9,1117.8 1218.6,1098.6 1192.3,1083.1 1176.2,1076.0" fill="#b8b8b8"/>
<polygon points="1183.2,1061.8 1199.4,1069.3 1192.3,1083.1 1176.2,1076.0" fill="#cdcdcd"/>
<polygon points="1317.7,1189.6 1330.4,1180.5 1339.9,1194.6 1326.4,1204.1" fill="#b8b8b8"/>
<polygon points="1348.6,1250.8 1363.2,1244.6 1369.2,1261.3 1384.4,1256.3 1390.0,1274.5 1394.1,1292.7 1378.3,1296.7 1380.3,1314.9 1396.5,1312.5 1399.1,1331.1 1382.4,1334.1 1366.6,1336.7 1365.2,1317.9 1362.7,1300.8 1359.1,1283.6 1354.1,1266.4" fill="#b8b8b8"/>
<polygon points="1471.5,1109.5 1499.5,1083.2 1510.6,1095.1 1524.8,1084.0 1534.4,1096.1 1548.5,1086.0 1558.6,1098.6 1572.8,1091.0 1564.5,1076.9 1579.4,1068.3 1596.0,1096.1 1582.4,1103.7 1590.0,1116.8 1616.2,1104.7 1627.9,1137.0 1617.3,1142.6 1613.2,1133.0 1601.1,1139.0 1605.9,1148.1 1594.5,1155.7 1590.0,1147.6 1577.8,1154.2 1567.2,1162.3 1556.6,1171.9 1541.0,1155.2 1529.8,1165.3 1517.7,1154.2 1507.1,1165.8 1495.0,1154.7 1506.1,1142.1" fill="#cdcdcd"/>
<polygon points="1510.6,1095.1 1524.8,1084.0 1534.4,1096.1 1521.2,1106.9" fill="#990000"/>
<polygon points="1531.9,1118.8 1544.5,1109.0 1564.5,1134.5 1552.6,1144.1" fill="#990000"/>
<polygon points="1560.9,1153.2 1572.3,1145.1 1578.0,1154.2 1567.2,1162.3" fill="#990000"/>
<polygon points="1603.6,1074.9 1619.8,1068.8 1625.3,1083.5 1610.2,1089.5" fill="#990000"/>
<polygon points="1651.9,976.1 1693.4,970.6 1694.4,985.8 1734.6,984.6 1735.0,1000.7 1697.6,1002.4 1656.4,1008.0" fill="#cdcdcd"/>
<polygon points="1715.2,1016.5 1752.8,1017.1 1749.8,1049.7 1732.2,1048.9 1732.8,1033.1 1715.2,1033.1" fill="#cdcdcd"/>
<polygon points="1661.8,1039.2 1715.0,1033.1 1715.5,1065.2 1731.6,1065.2 1730.7,1081.6 1715.5,1082.5 1716.2,1094.3 1687.1,1097.4 1692.2,1118.0 1679.4,1120.8 1670.9,1095.6 1666.7,1071.3" fill="#cdcdcd"/>
<polygon points="979.4,1240.7 985.9,1236.4 994.5,1249.3 988.6,1253.6" fill="#001a9e"/>
<polygon points="985.9,1236.4 991.3,1231.5 1000.4,1244.4 994.5,1249.3" fill="#cdcdcd"/>
<polygon points="1039.2,1227.7 1046.2,1226.1 1048.9,1242.3 1043.0,1243.9" fill="#f06000"/>
<polygon points="1046.2,1226.1 1052.9,1225.0 1055.4,1241.2 1048.9,1242.3" fill="#c01000"/>
<polygon points="1066.9,1224.3 1074.3,1224.0 1074.8,1240.7 1067.8,1240.9" fill="#cdcdcd"/>
<polygon points="1039.8,1333.0 1046.5,1322.6 1036.1,1305.7 1026.0,1317.5" fill="#cdcdcd"/>
<polygon points="1046.5,1322.6 1048.5,1320.5 1038.8,1303.7 1036.1,1305.7" fill="#aa0000"/>
<polygon points="1048.5,1320.5 1051.2,1318.9 1042.1,1301.7 1038.8,1303.7" fill="#cdcdcd"/>
<polygon points="1051.2,1318.9 1055.9,1316.2 1048.2,1298.6 1042.1,1301.7" fill="#aa0000"/>
<polygon points="1055.9,1316.2 1058.3,1315.2 1051.6,1297.3 1048.2,1298.6" fill="#cdcdcd"/>
<polygon points="1058.3,1315.2 1061.0,1314.1 1054.6,1296.3 1051.6,1297.3" fill="#aa0000"/>
<polygon points="1063.0,1313.8 1066.4,1313.3 1062.0,1294.3 1058.0,1295.3" fill="#e04000"/>
<polygon points="1066.4,1313.3 1069.1,1313.1 1065.7,1293.9 1062.0,1294.3" fill="#aa0000"/>
<polygon points="1069.1,1313.1 1074.1,1313.5 1073.1,1293.9 1065.7,1293.9" fill="#cdcdcd"/>
<polygon points="1074.1,1313.5 1075.8,1313.8 1076.8,1294.3 1073.1,1293.9" fill="#ff5a00"/>
<polygon points="1075.8,1313.8 1085.9,1318.2 1085.3,1296.3 1076.8,1294.3" fill="#cdcdcd"/>
<polygon points="1085.9,1318.2 1089.0,1319.9 1089.0,1298.6 1085.3,1298.0" fill="#aa0000"/>
<polygon points="1089.0,1319.9 1094.0,1324.9 1093.0,1299.3 1089.0,1298.6" fill="#cdcdcd"/>
<polygon points="1026.0,1317.5 1027.3,1314.1 1014.5,1300.3 1012.1,1303.0" fill="#aa0000"/>
<polygon points="1029.7,1310.8 1033.0,1308.1 1021.9,1293.2 1017.9,1297.0" fill="#b00000"/>
<polygon points="1033.0,1308.1 1036.1,1305.0 1024.9,1291.2 1021.9,1293.2" fill="#cc2200"/>
<polygon points="1036.1,1305.0 1039.1,1302.7 1028.3,1288.9 1024.9,1291.2" fill="#cdcdcd"/>
<polygon points="1043.8,1297.3 1047.2,1296.6 1040.4,1279.8 1036.4,1281.8" fill="#cdcdcd"/>
<polygon points="1047.2,1296.6 1051.2,1295.9 1044.5,1278.4 1040.4,1279.8" fill="#0010a0"/>
<polygon points="1051.2,1295.9 1058.0,1293.9 1052.6,1276.7 1044.5,1278.4" fill="#cdcdcd"/>
<polygon points="1060.7,1293.2 1065.0,1293.2 1062.0,1275.0 1057.3,1275.7" fill="#cdcdcd"/>
<polygon points="1065.0,1293.2 1068.8,1292.9 1066.4,1274.7 1062.0,1275.0" fill="#990000"/>
<polygon points="1068.8,1293.2 1072.8,1293.2 1071.1,1274.7 1066.4,1274.5" fill="#cdcdcd"/>
<polygon points="1076.2,1293.9 1080.5,1294.3 1080.2,1275.4 1075.2,1275.0" fill="#000090"/>
<polygon points="1080.5,1294.3 1087.0,1295.9 1089.6,1277.1 1080.2,1275.4" fill="#cdcdcd"/>
<polygon points="1089.0,1298.0 1093.0,1299.0 1093.7,1280.4 1089.6,1280.4" fill="#000090"/>
<polygon points="1020.9,1293.2 1024.9,1290.2 1014.8,1276.4 1010.1,1279.8" fill="#cdcdcd"/>
<polygon points="1024.9,1290.2 1028.0,1287.5 1018.5,1273.4 1014.8,1276.4" fill="#0066dd"/>
<polygon points="1028.0,1287.5 1035.7,1283.1 1028.3,1267.0 1019.2,1272.4" fill="#aa0000"/>
<polygon points="1044.5,1277.7 1048.5,1276.7 1042.8,1261.2 1038.1,1262.2" fill="#cdcdcd"/>
<polygon points="1052.2,1276.1 1061.0,1274.7 1058.6,1257.9 1047.9,1259.9" fill="#cdcdcd"/>
<polygon points="1018.2,1272.4 1022.9,1269.7 1014.8,1255.5 1009.4,1259.2" fill="#cdcdcd"/>
<polygon points="1022.9,1269.7 1028.3,1266.6 1020.2,1252.5 1014.8,1255.5" fill="#aa0000"/>
<polygon points="1028.3,1267.0 1037.1,1261.6 1031.3,1247.4 1020.2,1252.5" fill="#cdcdcd"/>
<polygon points="1650.2,1345.7 1670.1,1350.4 1670.1,1354.8 1650.2,1350.1" fill="#0018a8"/>
<polygon points="1670.1,1350.4 1692.0,1358.2 1693.3,1361.9 1670.1,1354.8" fill="#cdcdcd"/>
<polygon points="1633.7,1330.2 1651.9,1333.9 1650.5,1345.0 1632.2,1341.0" fill="#aa0000"/>
<polygon points="1634.7,1324.5 1652.2,1329.9 1651.9,1333.9 1634.0,1329.5" fill="#cdcdcd"/>
<polygon points="1636.0,1319.1 1653.9,1325.8 1653.2,1329.9 1635.4,1323.8" fill="#0a50cc"/>
<polygon points="1653.2,1326.5 1671.4,1334.6 1691.0,1343.0 1690.3,1346.4 1670.7,1338.6 1652.2,1330.2" fill="#0a64dd"/>
<polygon points="1652.2,1330.5 1670.7,1338.3 1670.1,1342.0 1651.9,1334.6" fill="#aa0000"/>
<polygon points="1670.7,1338.3 1690.3,1346.4 1689.9,1349.4 1670.1,1342.0" fill="#cdcdcd"/>
<polygon points="1654.6,1322.1 1674.1,1331.9 1691.3,1340.0 1691.0,1343.0 1671.4,1334.6 1653.9,1325.8" fill="#0014a0"/>
<polygon points="1655.9,1317.4 1675.5,1326.5 1693.6,1333.9 1692.6,1339.3 1674.1,1331.9 1654.9,1322.1" fill="#cdcdcd"/>
<polygon points="1658.6,1313.0 1676.1,1323.1 1674.8,1326.5 1656.9,1317.1" fill="#990000"/>
<polygon points="1677.5,1320.8 1694.7,1331.2 1694.0,1333.9 1675.8,1324.1" fill="#0014a0"/>
<polygon points="1646.5,1298.9 1677.8,1320.4 1675.8,1324.1 1643.8,1303.2" fill="#0a78f0"/>
<polygon points="1641.1,1307.6 1643.8,1303.6 1658.6,1313.0 1656.9,1317.1" fill="#0014a0"/>
<polygon points="1662.0,1306.9 1666.7,1302.2 1682.9,1312.3 1699.0,1324.5 1695.0,1331.2 1677.5,1320.4" fill="#cdcdcd"/>
<polygon points="1683.9,1311.3 1699.4,1323.8 1698.0,1326.5 1682.2,1313.3" fill="#0a50cc"/>
<polygon points="1653.2,1289.8 1667.0,1301.6 1664.0,1304.6 1650.2,1293.8" fill="#cc2200"/>
<polygon points="1629.0,1294.1 1640.4,1280.0 1653.2,1289.8 1643.8,1302.6" fill="#cdcdcd"/>
<polygon points="1608.1,1292.1 1625.9,1300.2 1622.9,1305.9 1607.7,1297.9" fill="#001a9e"/>
<polygon points="1602.7,1305.9 1620.9,1313.0 1619.2,1318.7 1602.0,1312.3" fill="#0a84ff"/>
<polygon points="1670.1,1297.5 1680.2,1289.1 1706.4,1318.4 1699.7,1323.8" fill="#cdcdcd"/>
<polygon points="1685.6,1286.7 1708.5,1316.7 1706.4,1319.1 1683.2,1289.1" fill="#0014a0"/>
<polygon points="1661.0,1282.0 1664.7,1280.0 1676.8,1291.5 1673.4,1294.1" fill="#0014a0"/>
<polygon points="1653.9,1265.2 1670.1,1253.9 1688.3,1281.8 1685.4,1285.8 1669.7,1274.9 1666.0,1278.1" fill="#00109a"/>
<polygon points="1670.1,1253.9 1675.7,1250.6 1695.1,1280.5 1688.3,1283.8" fill="#0a3cc0"/>
<polygon points="1675.7,1250.6 1679.4,1249.0 1687.1,1264.0 1683.8,1265.6" fill="#3aa0ff"/>
<polygon points="1683.8,1265.6 1687.1,1264.0 1696.0,1280.1 1692.3,1281.8" fill="#0a64dd"/>
<polygon points="1661.2,1281.0 1664.8,1278.5 1676.9,1291.5 1673.3,1294.3" fill="#0014a0"/>
<polygon points="1689.1,1285.0 1695.1,1281.4 1722.6,1315.7 1716.2,1316.9" fill="#cdcdcd"/>
<polygon points="1701.2,1242.1 1706.9,1240.9 1709.3,1257.5 1703.6,1258.7" fill="#cdcdcd"/>
<polygon points="1707.3,1240.5 1713.7,1239.7 1714.2,1257.1 1709.5,1257.5" fill="#000c96"/>
<polygon points="1703.6,1259.1 1708.9,1258.3 1709.7,1276.1 1705.7,1276.9" fill="#0a60d8"/>
<polygon points="1705.7,1276.9 1713.7,1275.3 1713.7,1294.7 1719.4,1314.9 1722.6,1315.7" fill="#cdcdcd"/>
<polygon points="1765.5,1194.7 1774.0,1197.1 1769.7,1212.6 1761.7,1210.3" fill="#0040c0"/>
<polygon points="1774.0,1197.1 1782.5,1199.9 1777.3,1215.0 1769.7,1212.6" fill="#0018a0"/>
<polygon points="1782.5,1199.9 1790.9,1203.7 1784.8,1218.8 1777.3,1215.0" fill="#cdcdcd"/>
<polygon points="1790.9,1203.7 1799.4,1207.9 1792.4,1222.5 1784.8,1218.8" fill="#e85000"/>
<polygon points="1799.4,1207.9 1807.5,1212.2 1799.4,1226.8 1792.4,1222.5" fill="#aa0000"/>
<polygon points="1712.2,1206.2 1720.7,1205.6 1721.1,1222.5 1713.1,1223.2" fill="#ff6a00"/>
<polygon points="1736.9,1206.2 1745.2,1207.5 1742.4,1224.0 1735.3,1222.5" fill="#0020a8"/>
<polygon points="1745.2,1207.5 1753.0,1208.9 1746.6,1241.9 1740.0,1241.4" fill="#cdcdcd"/>
<polygon points="1753.0,1208.9 1768.8,1213.1 1764.5,1229.2 1756.5,1227.3 1751.8,1241.4 1746.3,1240.0 1750.4,1224.9" fill="#000c96"/>
<polygon points="1768.8,1213.1 1776.8,1215.5 1771.1,1231.5 1764.5,1229.2" fill="#aa0000"/>
<polygon points="1720.7,1222.5 1727.3,1222.5 1726.8,1239.5 1720.2,1239.1" fill="#990000"/>
<polygon points="1727.7,1222.5 1734.8,1223.0 1733.4,1240.0 1727.0,1239.5" fill="#cdcdcd"/>
<polygon points="1735.1,1223.0 1742.2,1224.0 1739.5,1240.9 1733.4,1240.0" fill="#b40000"/>
<polygon points="1756.5,1227.3 1770.7,1232.0 1765.5,1247.1 1752.7,1242.8" fill="#cdcdcd"/>
<polygon points="1701.3,1241.4 1707.9,1240.5 1709.3,1257.5 1703.2,1258.4" fill="#cdcdcd"/>
<polygon points="1707.9,1240.5 1713.6,1240.0 1714.3,1257.0 1709.3,1257.5" fill="#000c96"/>
<polygon points="1713.6,1240.0 1726.3,1239.5 1725.8,1257.0 1714.3,1257.0" fill="#cdcdcd"/>
<polygon points="1726.8,1239.5 1732.9,1240.0 1731.5,1257.5 1725.8,1257.0" fill="#990000"/>
<polygon points="1732.9,1240.0 1751.8,1241.4 1747.5,1259.3 1731.5,1257.5" fill="#cdcdcd"/>
<polygon points="1751.8,1243.8 1758.4,1245.7 1754.2,1261.2 1748.0,1259.3" fill="#c81e00"/>
<polygon points="1764.5,1247.5 1770.7,1249.9 1764.5,1265.5 1758.9,1263.1" fill="#0a50cc"/>
<polygon points="1784.3,1237.9 1790.8,1241.4 1782.9,1256.0 1776.8,1252.7" fill="#cdcdcd"/>
<polygon points="1703.2,1258.9 1708.9,1258.1 1709.8,1276.3 1704.6,1277.3" fill="#0a60d8"/>
<polygon points="1708.9,1258.1 1714.1,1257.5 1714.3,1294.7 1710.3,1295.2" fill="#cdcdcd"/>
<polygon points="1714.3,1257.2 1720.2,1257.2 1718.8,1294.7 1714.3,1294.7" fill="#c01400"/>
<polygon points="1720.2,1257.2 1725.4,1257.2 1723.0,1294.7 1718.8,1294.7" fill="#aa0000"/>
<polygon points="1725.8,1257.2 1731.0,1257.5 1728.7,1274.9 1724.2,1274.4" fill="#f06000"/>
<polygon points="1731.0,1257.5 1736.2,1257.9 1733.4,1274.9 1728.9,1274.9" fill="#0018a0"/>
<polygon points="1736.2,1257.9 1741.4,1258.9 1737.2,1276.8 1733.6,1275.4" fill="#cdcdcd"/>
<polygon points="1741.9,1258.9 1752.3,1262.2 1746.6,1278.7 1738.1,1275.8" fill="#aa0000"/>
<polygon points="1752.3,1262.2 1757.9,1264.1 1746.6,1299.4 1741.4,1296.6 1746.6,1278.7" fill="#cc2000"/>
<polygon points="1757.9,1264.1 1765.5,1266.9 1751.8,1302.3 1746.6,1299.4" fill="#bb0800"/>
<polygon points="1765.5,1266.9 1772.1,1270.2 1764.5,1288.1 1759.8,1285.3" fill="#aa0000"/>
<polygon points="1775.4,1253.2 1781.0,1256.0 1773.0,1271.1 1768.3,1268.8" fill="#e85000"/>
<polygon points="1781.0,1256.0 1786.7,1259.3 1768.3,1288.6 1763.6,1286.2 1773.0,1271.1" fill="#c82800"/>
<polygon points="1786.7,1259.3 1792.4,1262.6 1782.9,1277.7 1777.7,1274.9" fill="#aa0000"/>
<polygon points="1727.7,1274.9 1732.9,1275.4 1729.6,1294.7 1726.3,1294.2" fill="#c01400"/>
<polygon points="1733.4,1275.4 1746.6,1278.7 1741.4,1296.6 1730.1,1294.7" fill="#cdcdcd"/>
<polygon points="1714.3,1295.2 1721.6,1294.7 1722.1,1314.5 1718.3,1315.5" fill="#cdcdcd"/>
<polygon points="1721.6,1294.7 1727.7,1295.2 1727.3,1315.9 1722.1,1314.5" fill="#b00000"/>
<polygon points="1727.7,1295.2 1732.5,1296.1 1730.6,1316.4 1727.3,1315.9" fill="#c81e00"/>
<polygon points="1732.5,1296.1 1740.5,1297.5 1734.3,1316.9 1730.6,1316.4" fill="#b00000"/>
<polygon points="1763.6,1287.2 1767.4,1290.0 1757.5,1306.0 1754.6,1303.2" fill="#cdcdcd"/>
<polygon points="1767.4,1290.0 1771.1,1292.4 1761.7,1308.4 1757.5,1306.0" fill="#0018a0"/>
<polygon points="1771.1,1292.4 1774.9,1294.7 1764.5,1311.7 1761.2,1308.4" fill="#0a3cc0"/>
<polygon points="1774.9,1296.1 1778.5,1299.4 1765.9,1315.0 1763.1,1311.7" fill="#c82000"/>
<polygon points="1754.6,1304.6 1760.8,1308.9 1749.0,1326.3 1744.7,1321.6" fill="#0a3cc0"/>
<path d="M1073.2 1313.8 C1076.8 1306.6 1088.6 1282.7 1094.9 1270.4 C1101.2 1258.1 1105.5 1251.5 1110.8 1240.0 C1116.1 1228.5 1122.4 1212.6 1127.0 1201.7 C1131.6 1190.8 1134.8 1182.7 1138.4 1174.8 C1142.0 1166.9 1145.9 1161.3 1148.5 1154.6 C1151.1 1147.9 1152.3 1140.5 1153.9 1134.4 C1155.5 1128.3 1156.4 1123.4 1158.0 1118.2 C1159.6 1113.0 1160.4 1110.6 1163.4 1103.4 C1166.4 1096.2 1171.5 1085.6 1176.2 1075.0 C1180.9 1064.4 1186.0 1053.5 1191.7 1040.0 C1197.4 1026.5 1203.2 1010.5 1210.3 993.8 C1217.4 977.1 1219.1 977.4 1234.6 940.0 C1250.1 902.6 1285.7 815.8 1303.3 769.5 C1320.9 723.2 1329.3 694.3 1340.0 662.0 C1350.7 629.7 1359.2 601.3 1367.5 575.5 C1375.8 549.7 1374.8 556.6 1389.9 507.1 C1405.0 457.6 1446.9 316.4 1458.3 278.3 L1514.9 298.3 M1077.1 1314.6 C1081.1 1307.8 1094.2 1285.9 1101.1 1273.5 C1107.9 1261.1 1112.1 1252.0 1118.2 1240.0 C1124.3 1228.0 1132.3 1212.6 1137.7 1201.7 C1143.1 1190.8 1146.7 1182.7 1150.5 1174.8 C1154.3 1166.9 1157.9 1161.3 1160.7 1154.6 C1163.5 1147.9 1165.4 1140.0 1167.4 1134.4 C1169.4 1128.8 1170.5 1125.9 1172.8 1120.9 C1175.0 1116.0 1177.5 1111.2 1180.9 1104.7 C1184.3 1098.2 1190.0 1087.9 1193.0 1081.8 C1196.0 1075.7 1195.8 1075.3 1199.1 1068.3 C1202.3 1061.3 1207.4 1050.7 1212.5 1040.0 C1217.6 1029.3 1221.4 1020.7 1229.5 1004.0 C1237.6 987.3 1242.5 980.8 1260.9 940.0 C1279.3 899.2 1318.1 810.8 1340.0 759.3 C1361.9 707.8 1380.0 662.6 1392.5 631.2 C1405.0 599.8 1394.3 626.3 1414.7 570.8 C1435.1 515.3 1498.2 343.7 1514.9 298.3 M1717.3 1314.6 C1714.4 1309.4 1706.0 1294.4 1699.8 1283.4 C1693.6 1272.4 1686.3 1260.8 1679.9 1248.5 C1673.5 1236.2 1667.4 1223.1 1661.2 1209.8 C1655.0 1196.5 1647.5 1180.3 1642.5 1168.7 C1637.5 1157.1 1634.6 1149.9 1631.2 1140.0 C1627.8 1130.1 1625.5 1117.7 1622.0 1109.3 C1618.5 1100.9 1613.5 1095.4 1610.4 1089.5 C1607.3 1083.6 1608.2 1083.8 1603.4 1073.9 C1598.6 1064.0 1592.4 1052.3 1581.4 1030.0 C1570.4 1007.7 1552.1 970.2 1537.5 940.0 C1522.9 909.8 1507.8 879.0 1493.7 848.9 C1479.6 818.8 1469.6 795.6 1452.7 759.3 C1435.8 723.0 1406.7 661.8 1392.5 631.2 C1378.3 600.6 1391.3 630.8 1367.5 575.5 C1343.7 520.2 1269.2 345.5 1249.6 299.5 L1303.8 277.1 M1723.5 1314.6 C1720.4 1308.8 1711.2 1292.4 1704.8 1279.7 C1698.4 1267.0 1691.1 1252.0 1684.9 1238.5 C1678.7 1225.0 1672.8 1211.5 1667.4 1198.6 C1662.0 1185.7 1656.4 1171.0 1652.4 1161.2 C1648.5 1151.4 1645.9 1147.2 1643.7 1140.0 C1641.5 1132.8 1640.9 1124.6 1639.5 1117.8 C1638.1 1111.0 1638.0 1107.2 1635.2 1099.4 C1632.4 1091.6 1627.9 1082.6 1622.5 1071.0 C1617.1 1059.4 1612.5 1051.8 1602.6 1030.0 C1592.7 1008.2 1575.8 970.2 1563.2 940.0 C1550.6 909.8 1540.2 881.1 1526.9 848.9 C1513.6 816.6 1502.1 792.9 1483.4 746.5 C1464.7 700.1 1430.3 610.7 1414.7 570.8 C1399.1 530.9 1408.4 556.0 1389.9 507.1 C1371.4 458.2 1318.2 315.4 1303.8 277.1 M1073.2 1313.8 L1077.1 1314.6 M1717.3 1314.6 L1723.5 1314.6" fill="none" stroke="#ff00ff" stroke-width="3.3" stroke-linejoin="miter"/>
</g>
<defs><linearGradient id="cb" x1="0" y1="0" x2="0" y2="1"><stop offset="0.0000" stop-color="#c6e6ff"/><stop offset="0.0600" stop-color="#88c8fb"/><stop offset="0.1240" stop-color="#3c9fee"/><stop offset="0.1260" stop-color="#149cff"/><stop offset="0.2490" stop-color="#0468dc"/><stop offset="0.2510" stop-color="#0460d8"/><stop offset="0.3740" stop-color="#04289f"/><stop offset="0.3760" stop-color="#08209c"/><stop offset="0.4490" stop-color="#00008b"/><stop offset="0.4505" stop-color="#c8c8c8"/><stop offset="0.5495" stop-color="#c8c8c8"/><stop offset="0.5510" stop-color="#8e0000"/><stop offset="0.6240" stop-color="#a80000"/><stop offset="0.6260" stop-color="#b00000"/><stop offset="0.6900" stop-color="#c83000"/><stop offset="0.7490" stop-color="#e05000"/><stop offset="0.7510" stop-color="#e85800"/><stop offset="0.8100" stop-color="#ff7800"/><stop offset="0.8740" stop-color="#f89020"/><stop offset="0.8760" stop-color="#ffa850"/><stop offset="1.0000" stop-color="#ffe6cc"/></linearGradient></defs>
<rect x="150.6" y="895.4" width="37.9" height="433.8" fill="url(#cb)" stroke="#000" stroke-width="1.2"/>
<line x1="150.6" y1="949.6" x2="188.5" y2="949.6" stroke="#000" stroke-width="1.2"/>
<line x1="150.6" y1="1003.9" x2="188.5" y2="1003.9" stroke="#000" stroke-width="1.2"/>
<line x1="150.6" y1="1058.1" x2="188.5" y2="1058.1" stroke="#000" stroke-width="1.2"/>
<line x1="150.6" y1="1112.3" x2="188.5" y2="1112.3" stroke="#000" stroke-width="1.2"/>
<line x1="150.6" y1="1166.5" x2="188.5" y2="1166.5" stroke="#000" stroke-width="1.2"/>
<line x1="150.6" y1="1220.8" x2="188.5" y2="1220.8" stroke="#000" stroke-width="1.2"/>
<line x1="150.6" y1="1275.0" x2="188.5" y2="1275.0" stroke="#000" stroke-width="1.2"/>
<text x="136.9" y="896.2" font-size="24.2" text-anchor="end" fill="#000">100</text>
<text x="136.9" y="950.4" font-size="24.2" text-anchor="end" fill="#000">75</text>
<text x="136.9" y="1004.6" font-size="24.2" text-anchor="end" fill="#000">50</text>
<text x="136.9" y="1058.9" font-size="24.2" text-anchor="end" fill="#000">25</text>
<text x="136.9" y="1113.1" font-size="24.2" text-anchor="end" fill="#000">0</text>
<text x="136.9" y="1167.3" font-size="24.2" text-anchor="end" fill="#000">-25</text>
<text x="136.9" y="1221.5" font-size="24.2" text-anchor="end" fill="#000">-50</text>
<text x="136.9" y="1275.8" font-size="24.2" text-anchor="end" fill="#000">-75</text>
<text x="136.9" y="1330.0" font-size="24.2" text-anchor="end" fill="#000">-100</text>
<text x="202.4" y="915.9" font-size="25.5" text-anchor="start" fill="#000">toward</text>
<text x="202.4" y="1329.7" font-size="25.5" text-anchor="start" fill="#000">away</text>
<text x="203.0" y="1090.6" font-size="24.2" text-anchor="start" fill="#000">10</text>
<text x="202.0" y="1154.5" font-size="24.2" text-anchor="start" fill="#000">-10</text>
<text x="76.0" y="851.7" font-size="31.5" text-anchor="start" fill="#000">Velocity (m/s)</text>
<text x="62.6" y="66.6" font-size="33.2" text-anchor="start" fill="#000">March, 9 2020</text>
<text x="62.6" y="95.0" font-size="33.2" text-anchor="start" fill="#000">0716:00 UT</text>
<text x="378.0" y="985.0" font-size="33.2" text-anchor="middle" fill="#000">Frequency</text>
<rect x="263.7" y="1030.1" width="39.0" height="299.1" fill="none" stroke="#000" stroke-width="1.4"/>
<line x1="263.7" y1="1060.0" x2="302.7" y2="1060.0" stroke="#000" stroke-width="1.4"/>
<line x1="263.7" y1="1089.9" x2="302.7" y2="1089.9" stroke="#000" stroke-width="1.4"/>
<line x1="263.7" y1="1119.8" x2="302.7" y2="1119.8" stroke="#000" stroke-width="1.4"/>
<line x1="263.7" y1="1149.7" x2="302.7" y2="1149.7" stroke="#000" stroke-width="1.4"/>
<line x1="263.7" y1="1179.7" x2="302.7" y2="1179.7" stroke="#000" stroke-width="1.4"/>
<line x1="263.7" y1="1209.6" x2="302.7" y2="1209.6" stroke="#000" stroke-width="1.4"/>
<line x1="263.7" y1="1239.5" x2="302.7" y2="1239.5" stroke="#000" stroke-width="1.4"/>
<line x1="263.7" y1="1269.4" x2="302.7" y2="1269.4" stroke="#000" stroke-width="1.4"/>
<line x1="263.7" y1="1299.3" x2="302.7" y2="1299.3" stroke="#000" stroke-width="1.4"/>
<text x="283.2" y="1017.4" font-size="30.7" text-anchor="middle" fill="#000">cvw</text>
<rect x="326.8" y="1030.1" width="38.7" height="299.1" fill="none" stroke="#000" stroke-width="1.4"/>
<line x1="326.8" y1="1060.0" x2="365.5" y2="1060.0" stroke="#000" stroke-width="1.4"/>
<line x1="326.8" y1="1089.9" x2="365.5" y2="1089.9" stroke="#000" stroke-width="1.4"/>
<line x1="326.8" y1="1119.8" x2="365.5" y2="1119.8" stroke="#000" stroke-width="1.4"/>
<line x1="326.8" y1="1149.7" x2="365.5" y2="1149.7" stroke="#000" stroke-width="1.4"/>
<line x1="326.8" y1="1179.7" x2="365.5" y2="1179.7" stroke="#000" stroke-width="1.4"/>
<line x1="326.8" y1="1209.6" x2="365.5" y2="1209.6" stroke="#000" stroke-width="1.4"/>
<line x1="326.8" y1="1239.5" x2="365.5" y2="1239.5" stroke="#000" stroke-width="1.4"/>
<line x1="326.8" y1="1269.4" x2="365.5" y2="1269.4" stroke="#000" stroke-width="1.4"/>
<line x1="326.8" y1="1299.3" x2="365.5" y2="1299.3" stroke="#000" stroke-width="1.4"/>
<text x="346.1" y="1017.4" font-size="30.7" text-anchor="middle" fill="#000">cve</text>
<rect x="389.8" y="1030.1" width="38.7" height="299.1" fill="none" stroke="#000" stroke-width="1.4"/>
<line x1="389.8" y1="1060.0" x2="428.5" y2="1060.0" stroke="#000" stroke-width="1.4"/>
<line x1="389.8" y1="1089.9" x2="428.5" y2="1089.9" stroke="#000" stroke-width="1.4"/>
<line x1="389.8" y1="1119.8" x2="428.5" y2="1119.8" stroke="#000" stroke-width="1.4"/>
<line x1="389.8" y1="1149.7" x2="428.5" y2="1149.7" stroke="#000" stroke-width="1.4"/>
<line x1="389.8" y1="1179.7" x2="428.5" y2="1179.7" stroke="#000" stroke-width="1.4"/>
<line x1="389.8" y1="1209.6" x2="428.5" y2="1209.6" stroke="#000" stroke-width="1.4"/>
<line x1="389.8" y1="1239.5" x2="428.5" y2="1239.5" stroke="#000" stroke-width="1.4"/>
<line x1="389.8" y1="1269.4" x2="428.5" y2="1269.4" stroke="#000" stroke-width="1.4"/>
<line x1="389.8" y1="1299.3" x2="428.5" y2="1299.3" stroke="#000" stroke-width="1.4"/>
<text x="409.1" y="1017.4" font-size="30.7" text-anchor="middle" fill="#000">fhw</text>
<rect x="452.8" y="1030.1" width="38.7" height="299.1" fill="none" stroke="#000" stroke-width="1.4"/>
<line x1="452.8" y1="1060.0" x2="491.5" y2="1060.0" stroke="#000" stroke-width="1.4"/>
<line x1="452.8" y1="1089.9" x2="491.5" y2="1089.9" stroke="#000" stroke-width="1.4"/>
<line x1="452.8" y1="1119.8" x2="491.5" y2="1119.8" stroke="#000" stroke-width="1.4"/>
<line x1="452.8" y1="1149.7" x2="491.5" y2="1149.7" stroke="#000" stroke-width="1.4"/>
<line x1="452.8" y1="1179.7" x2="491.5" y2="1179.7" stroke="#000" stroke-width="1.4"/>
<line x1="452.8" y1="1209.6" x2="491.5" y2="1209.6" stroke="#000" stroke-width="1.4"/>
<line x1="452.8" y1="1239.5" x2="491.5" y2="1239.5" stroke="#000" stroke-width="1.4"/>
<line x1="452.8" y1="1269.4" x2="491.5" y2="1269.4" stroke="#000" stroke-width="1.4"/>
<line x1="452.8" y1="1299.3" x2="491.5" y2="1299.3" stroke="#000" stroke-width="1.4"/>
<text x="472.1" y="1017.4" font-size="30.7" text-anchor="middle" fill="#000">fhe</text>
<text x="256.8" y="1041.3" font-size="24.2" text-anchor="end" fill="#000">18</text>
<text x="500.0" y="1041.3" font-size="24.2" text-anchor="start" fill="#000">18</text>
<text x="256.8" y="1071.2" font-size="24.2" text-anchor="end" fill="#000">17</text>
<text x="500.0" y="1071.2" font-size="24.2" text-anchor="start" fill="#000">17</text>
<text x="256.8" y="1101.1" font-size="24.2" text-anchor="end" fill="#000">16</text>
<text x="500.0" y="1101.1" font-size="24.2" text-anchor="start" fill="#000">16</text>
<text x="256.8" y="1131.0" font-size="24.2" text-anchor="end" fill="#000">15</text>
<text x="500.0" y="1131.0" font-size="24.2" text-anchor="start" fill="#000">15</text>
<text x="256.8" y="1160.9" font-size="24.2" text-anchor="end" fill="#000">14</text>
<text x="500.0" y="1160.9" font-size="24.2" text-anchor="start" fill="#000">14</text>
<text x="256.8" y="1190.9" font-size="24.2" text-anchor="end" fill="#000">13</text>
<text x="500.0" y="1190.9" font-size="24.2" text-anchor="start" fill="#000">13</text>
<text x="256.8" y="1220.8" font-size="24.2" text-anchor="end" fill="#000">12</text>
<text x="500.0" y="1220.8" font-size="24.2" text-anchor="start" fill="#000">12</text>
<text x="256.8" y="1250.7" font-size="24.2" text-anchor="end" fill="#000">11</text>
<text x="500.0" y="1250.7" font-size="24.2" text-anchor="start" fill="#000">11</text>
<text x="256.8" y="1280.6" font-size="24.2" text-anchor="end" fill="#000">10</text>
<text x="500.0" y="1280.6" font-size="24.2" text-anchor="start" fill="#000">10</text>
<text x="256.8" y="1310.5" font-size="24.2" text-anchor="end" fill="#000">9</text>
<text x="500.0" y="1310.5" font-size="24.2" text-anchor="start" fill="#000">9</text>
<text x="256.8" y="1340.4" font-size="24.2" text-anchor="end" fill="#000">8</text>
<text x="500.0" y="1340.4" font-size="24.2" text-anchor="start" fill="#000">8</text>
<rect x="263.7" y="1247.4" width="39.0" height="11.4" fill="#ff4500"/>
<line x1="258.2" y1="1249.0" x2="308.2" y2="1249.0" stroke="#ff4500" stroke-width="2.7"/>
<line x1="258.2" y1="1257.2" x2="308.2" y2="1257.2" stroke="#ff4500" stroke-width="2.7"/>
<line x1="321.3" y1="1242.7" x2="371.0" y2="1242.7" stroke="#ff4500" stroke-width="2.7"/>
<line x1="384.3" y1="1242.7" x2="434.0" y2="1242.7" stroke="#ff4500" stroke-width="2.7"/>
<rect x="452.8" y="1247.4" width="38.7" height="11.4" fill="#ff4500"/>
<line x1="447.3" y1="1249.0" x2="497.0" y2="1249.0" stroke="#ff4500" stroke-width="2.7"/>
<line x1="447.3" y1="1257.2" x2="497.0" y2="1257.2" stroke="#ff4500" stroke-width="2.7"/>
<text x="1001.8" y="1393.2" font-size="33.2" text-anchor="start" fill="#000">cvw</text>
<text x="1077.9" y="1393.2" font-size="33.2" text-anchor="start" fill="#000">cve</text>
<text x="1077.5" y="1420.9" font-size="33.2" text-anchor="start" fill="#ff00ff">b04</text>
<text x="1658.8" y="1396.6" font-size="33.2" text-anchor="start" fill="#000">fhw</text>
<text x="1728.9" y="1396.6" font-size="33.2" text-anchor="start" fill="#000">fhe</text>
<text x="1663.4" y="1424.1" font-size="33.2" text-anchor="start" fill="#ff00ff">b19</text>
</svg>
</body></html>
